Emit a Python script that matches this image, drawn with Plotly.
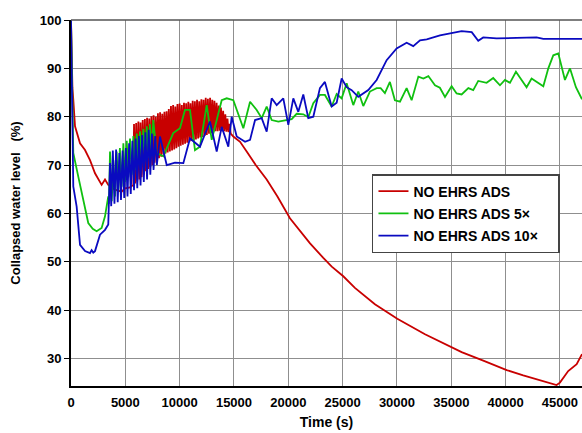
import plotly.graph_objects as go

# ---- data ----
time_red = [0, 60, 130, 210, 370, 830, 1290, 1750, 2210, 2820, 3130, 3430, 4050, 4660, 4970, 5430, 5740,
            5800, 5900, 6000, 6100, 6200, 6300, 6400, 6500, 6600, 6700, 6800, 6900, 7000, 7100, 7200, 7300,
            7400, 7500, 7600, 7700, 7800, 7900, 8000, 8100, 8200, 8300, 8400, 8500, 8600, 8700, 8800, 8900,
            9000, 9100, 9200, 9300, 9400, 9500, 9600, 9700, 9800, 9900, 10000, 10100, 10200, 10300, 10400,
            10500, 10600, 10700, 10800, 10900, 11000, 11100, 11200, 11300, 11400, 11500, 11600, 11700,
            11800, 11900, 12000, 12100, 12200, 12300, 12400, 12500, 12600, 12700, 12800, 12900, 13000,
            13100, 13200, 13300, 13400, 13500, 13600, 13700, 13800, 13900, 14000, 14100, 14200, 14300,
            14400, 14500, 14600, 14700,
            14940, 15560, 16170, 17000, 18010, 19000, 20150, 21070, 22000, 23220, 24000, 25060, 26130,
            27970, 30030, 32580, 35950, 38000, 40100, 41620, 43000, 44000, 44690, 45000, 45760, 46540, 47030]
level_red = [100, 93, 86, 83.6, 78, 74.5, 73.1, 71, 68.3, 65.9, 67, 65.9, 64.9, 64.5, 65.2, 65.4, 65.9,
             78.5, 66.2, 78.7, 66.6, 79.0, 67.0, 78.8, 67.5, 79.3, 68.0, 79.5, 68.7, 79.8, 69.2, 79.6, 69.6,
             80.1, 70.0, 80.3, 70.5, 80.0, 70.9, 80.7, 71.4, 80.9, 71.7, 80.6, 72.2, 81.0, 72.4, 81.1, 72.6,
             81.6, 72.8, 82.2, 73.0, 82.4, 73.2, 82.1, 73.5, 82.6, 73.8, 82.7, 74.0, 82.4, 74.2, 82.9,
             74.4, 82.8, 74.6, 83.1, 74.8, 82.8, 75.0, 83.3, 75.1, 83.2, 75.3, 83.5, 75.5,
             83.2, 75.7, 83.6, 75.8, 83.5, 76.0, 83.9, 76.2, 83.7, 76.5, 83.9, 76.6, 83.5,
             76.8, 83.3, 77.0, 82.9, 77.0, 82.3, 77.1, 81.9, 77.0, 81.2, 77.0, 80.5, 76.9,
             79.6, 76.8, 78.5, 76.5,
             75.9, 74.8, 72.8, 70.0, 67.0, 63.5, 59.0, 56.3, 53.8, 50.8, 49.0, 47.0, 44.6,
             41.2, 38.2, 35.0, 31.3, 29.5, 27.6, 26.5, 25.6, 24.9, 24.5, 25.0, 27.4, 28.8, 30.9]

time_5x = [0, 80, 210, 670, 1130, 1590, 2000, 2360, 2820, 3130, 3430, 3500, 3590, 3750, 3900, 4050, 4200,
           4360, 4500, 4660, 4820, 4970, 5130, 5280, 5430, 5590, 5740, 5890, 6050, 6200, 6350, 6510, 6660,
           6810, 6970, 7120, 7270, 7420, 7570, 7880, 8500, 9410, 10030, 10490, 10950, 11410, 11870, 12490,
           12950, 13870, 14330, 14940, 15860, 16480, 17090, 17550, 18010, 18470, 19080, 19600, 20310,
           20770, 21380, 21840, 22300, 22910, 23370, 23990, 24450, 24910, 25370, 25980, 26440, 26900,
           27510, 28130, 28500, 28890, 29350, 29810, 30280, 30890, 31350, 31970, 32430, 32890, 33500,
           33950, 34420, 35030, 35490, 35950, 36570, 37020, 37480, 38250, 38860, 39480, 39940, 40400,
           40950, 41470, 41930, 42390, 43010, 43470, 43930, 44390, 44850, 45460, 45920, 46470, 47030]
level_5x = [100, 86, 72.5, 67.6, 62.8, 58.0, 56.8, 56.3, 57.0, 59.4, 63.5, 62.0, 72.8, 62.5, 71.0, 63.5, 72.8,
            64.5, 73.5, 65.5, 74.5, 66.5, 75.0, 67.5, 75.5, 68.0, 76.0, 69.0, 76.5, 70.0, 77.0, 70.5, 77.5,
            71.0, 78.0, 71.5, 78.5, 72.0, 79.3, 72.5, 71.8, 76.6, 77.6, 81.4, 81.4, 73.1, 73.8, 82.4,
            75.2, 83.4, 83.8, 83.4, 77.6, 83.1, 81.4, 79.7, 82.1, 79.3, 79.0, 79.2, 79.5,
            80.6, 80.5, 79.9, 82.8, 84.5, 84.5, 82.1, 84.7, 83.8, 86.9, 82.4, 85.2, 82.2,
            85.2, 85.9, 85.9, 84.9, 87.2, 83.4, 83.1, 85.9, 83.4, 88.3, 87.9, 88.4, 86.5,
            86.0, 84.1, 86.3, 84.8, 84.6, 85.9, 85.5, 87.4, 87.0, 88.0, 86.5, 87.6, 87.0,
            89.3, 87.6, 86.1, 87.9, 87.0, 86.3, 90.0, 92.7, 93.1, 87.6, 90.0, 86.1, 83.6]

time_10x = [0, 80, 210, 520, 830, 1290, 1750, 1900, 2050, 2210, 2670, 3130, 3430, 3590, 3700, 3850, 4000,
            4150, 4300, 4450, 4600, 4750, 4900, 5050, 5200, 5350, 5500, 5650, 5800, 5950, 6100, 6250, 6400,
            6550, 6700, 6850, 7000, 7150, 7300, 7450, 7600, 7750, 7900, 8190, 8810, 9570, 10340, 10950,
            11870, 12790, 13410, 13870, 14480, 14790, 15250, 16020, 16480, 16940, 17550, 18010, 18470,
            18930, 19540, 20000, 20460, 20920, 21380, 21840, 22300, 22910, 23370, 23990, 24450, 24910,
            25370, 25830, 26440, 27360, 28130, 29050, 29970, 30890, 31500, 32120, 32740, 33960, 34880,
            35950, 36880, 37480, 37940, 39170, 41010, 42850, 43470, 47030]
level_10x = [100, 82, 65.6, 61.4, 53.5, 52.2, 51.8, 52.4, 51.9, 52.2, 55.6, 56.6, 57.7, 70.4, 61.5, 73.0, 62.0,
             73.2, 62.3, 72.5, 62.8, 73.0, 63.2, 73.5, 63.5, 74.5, 64.0, 75.0, 64.8, 75.5, 65.2, 76.0, 65.8,
             76.2, 66.5, 76.8, 67.0, 77.3, 68.0, 76.5, 69.0, 76.0, 70.0, 75.9, 70.0, 70.5, 70.4, 75.5,
             73.8, 79.0, 72.8, 77.9, 73.8, 80.0, 75.9, 74.8, 75.2, 79.3, 79.7, 76.9, 83.8,
             82.4, 83.8, 78.3, 83.8, 81.0, 84.6, 79.7, 80.0, 85.9, 87.2, 82.1, 82.9, 87.9,
             86.1, 85.5, 84.1, 85.5, 87.6, 91.7, 94.1, 95.3, 94.6, 95.8, 96.0, 96.8, 97.2,
             97.7, 97.5, 95.7, 96.4, 96.2, 96.3, 96.4, 96.1, 96.1]

x_ticks = [0, 5000, 10000, 15000, 20000, 25000, 30000, 35000, 40000, 45000]
y_ticks = [30, 40, 50, 60, 70, 80, 90, 100]
series_names = ["NO EHRS ADS", "NO EHRS ADS 5\u00d7", "NO EHRS ADS 10\u00d7"]

NARROW = "Liberation Sans Narrow, Arial Narrow, Liberation Sans, Arial, sans-serif"
WIDE = "Liberation Sans, Arial, sans-serif"

fig = go.Figure()
fig.add_trace(go.Scatter(x=time_red, y=level_red, mode="lines", name=series_names[0],
                         line=dict(color="#c80000", width=1.8), legendgroup="a"))
fig.add_trace(go.Scatter(x=time_5x, y=level_5x, mode="lines", name=series_names[1],
                         line=dict(color="#10c010", width=1.8), legendgroup="b"))
fig.add_trace(go.Scatter(x=time_10x, y=level_10x, mode="lines", name=series_names[2] + "\u00a0\u00a0\u00a0\u00a0",
                         line=dict(color="#0a0ac0", width=1.8), legendgroup="c"))

fig.update_layout(
    width=582, height=433,
    margin=dict(l=71, r=0, t=20, b=47),
    paper_bgcolor="white", plot_bgcolor="white",
    showlegend=True,
    legend=dict(x=0.589, y=0.579, xanchor="left", yanchor="top",
                bgcolor="white", bordercolor="#444444", borderwidth=1.5,
                font=dict(family=WIDE, size=14, color="black", weight="bold"),
                tracegroupgap=1, itemwidth=30),
    xaxis=dict(range=[0, 47030], tickvals=x_ticks, ticktext=[str(v) for v in x_ticks],
               showgrid=True, gridcolor="#8f8f8f", gridwidth=1.2,
               showline=True, linecolor="black", linewidth=2, zeroline=False,
               ticks="", ticklabelstandoff=3,
               tickfont=dict(family=NARROW, size=13, color="black", weight="bold"),
               title=dict(text="Time (s)", font=dict(family=NARROW, size=14, color="black", weight="bold"),
                          standoff=9)),
    yaxis=dict(range=[24.3, 100], tickvals=y_ticks, ticktext=[str(v) for v in y_ticks],
               showgrid=True, gridcolor="#8f8f8f", gridwidth=1.2,
               showline=True, linecolor="black", linewidth=2, zeroline=False,
               ticks="outside", ticklen=5, tickcolor="black", tickwidth=1,
               tickfont=dict(family=NARROW, size=13, color="black", weight="bold"),
               title=dict(text="Collapsed water level\u00a0\u00a0\u00a0(%)",
                          font=dict(family=NARROW, size=13, color="black", weight="bold"),
                          standoff=16)),
    shapes=[dict(type="line", xref="paper", yref="paper", x0=0, x1=1, y0=1, y1=1,
                 line=dict(color="#555555", width=1.5))],
)

fig.write_html("out.html")
